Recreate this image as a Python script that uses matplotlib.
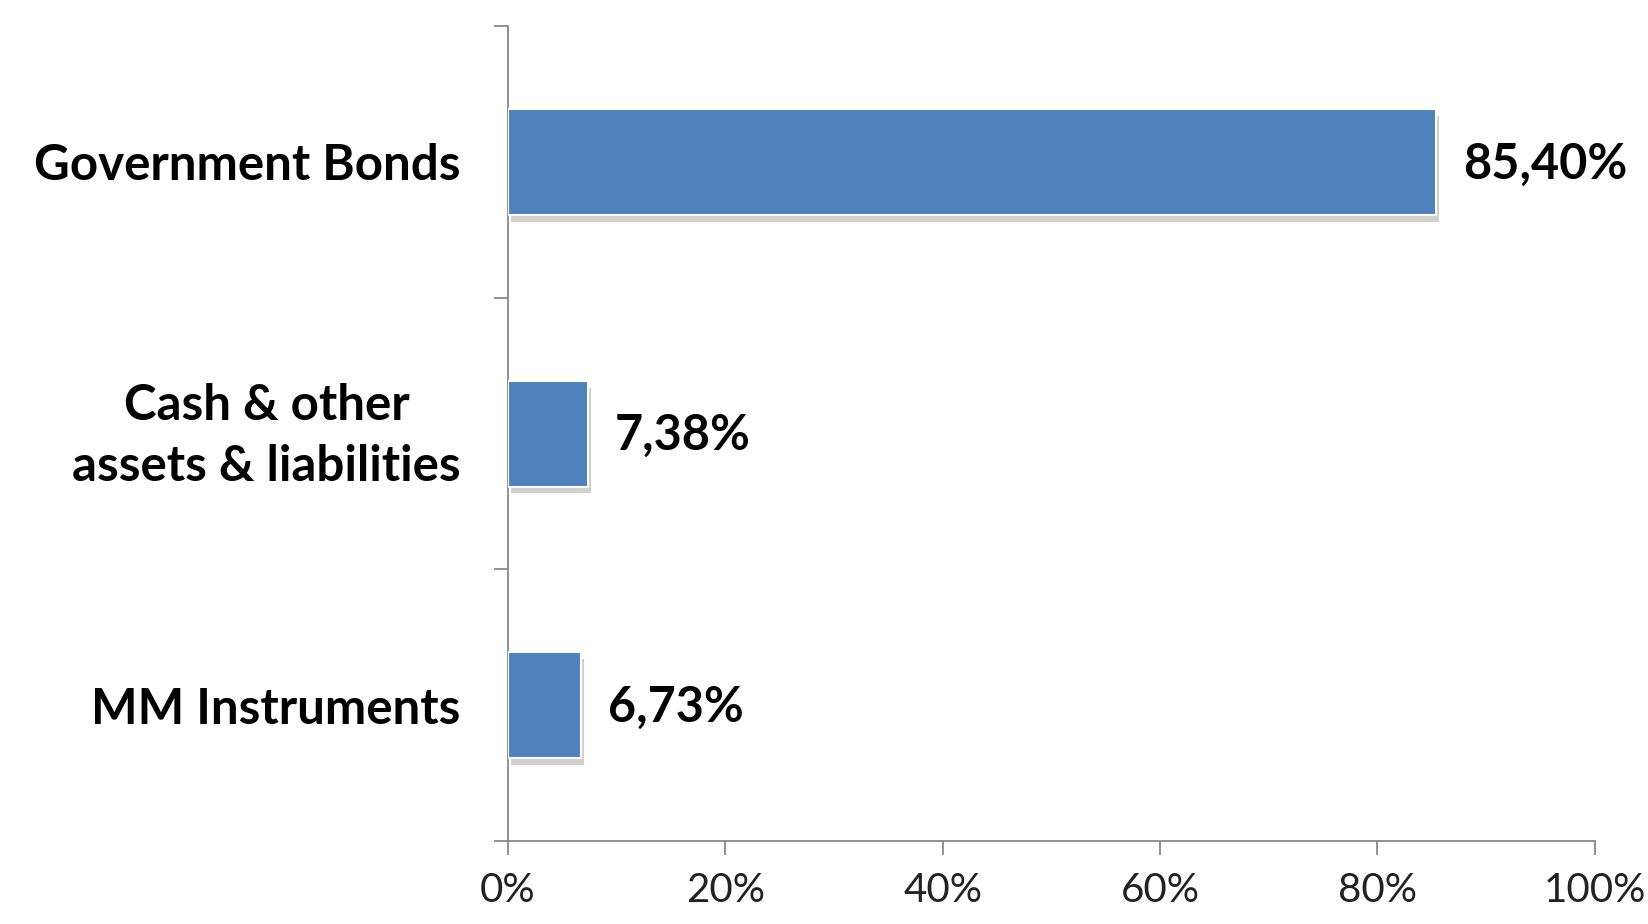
import matplotlib
matplotlib.use("Agg")
import matplotlib.pyplot as plt
import matplotlib.patheffects as pe
import matplotlib.transforms as mtransforms
from matplotlib.ticker import FixedLocator, FuncFormatter

categories = ["Government Bonds", "Cash & other\nassets & liabilities", "MM Instruments"]
values = [85.40, 7.38, 6.73]
value_labels = ["85,40%", "7,38%", "6,73%"]
xticks = [0, 20, 40, 60, 80, 100]
xtick_labels = ["0%", "20%", "40%", "60%", "80%", "100%"]

FONT = ["Lato", "DejaVu Sans"]
plt.rcParams['font.family'] = FONT

fig = plt.figure(figsize=(16.49, 9.24), dpi=100)
ax = fig.add_axes([0.308, 0.0898, 0.659, 0.882])

ypos = list(range(len(categories)))
bars = ax.barh(ypos, values, height=0.39, color="#4F81BD", edgecolor="white",
               linewidth=1.5, zorder=3)
for b in bars:
    b.set_path_effects([pe.SimplePatchShadow(offset=(2, -5), shadow_rgbFace="#999999", alpha=0.45),
                        pe.Normal()])

ax.set_xlim(0, 100)
ax.set_ylim(len(categories) - 0.5, -0.5)

for y, v, lab in zip(ypos, values, value_labels):
    ax.annotate(lab, xy=(v, y), xytext=(27, -2), textcoords="offset pixels",
                ha="left", va="center", fontsize=35, fontweight="bold", color="black")

ax.xaxis.set_major_locator(FixedLocator(xticks))
ax.set_xticklabels(xtick_labels)
ax.tick_params(axis="x", direction="out", length=10, width=1.3, color="#888888",
               labelsize=29, pad=12, labelcolor="#222222")

bounds = [i - 0.5 for i in range(len(categories) + 1)]
ax.yaxis.set_major_locator(FixedLocator(bounds))
ax.yaxis.set_major_formatter(FuncFormatter(lambda x, p: ""))
ax.tick_params(axis="y", which="major", direction="out", length=10, width=1.3, color="#888888")
ax.yaxis.set_minor_locator(FixedLocator(ypos))
ax.set_yticklabels(categories, minor=True)
ax.tick_params(axis="y", which="minor", length=0, pad=34, labelsize=35.5)
shift_up = mtransforms.ScaledTranslation(0, 10 / 100, fig.dpi_scale_trans)
for t in ax.get_yticklabels(minor=True):
    t.set_fontweight("bold")
    t.set_multialignment("center")
    t.set_linespacing(1.45)
for tick in ax.yaxis.get_minor_ticks():
    if "\n" in tick.label1.get_text():
        tick.label1.set_transform(tick.label1.get_transform() + shift_up)

for s in ["top", "right"]:
    ax.spines[s].set_visible(False)
for s in ["left", "bottom"]:
    ax.spines[s].set_color("#888888")
    ax.spines[s].set_linewidth(1.3)

fig.savefig("out.png", dpi=100, facecolor="white")
